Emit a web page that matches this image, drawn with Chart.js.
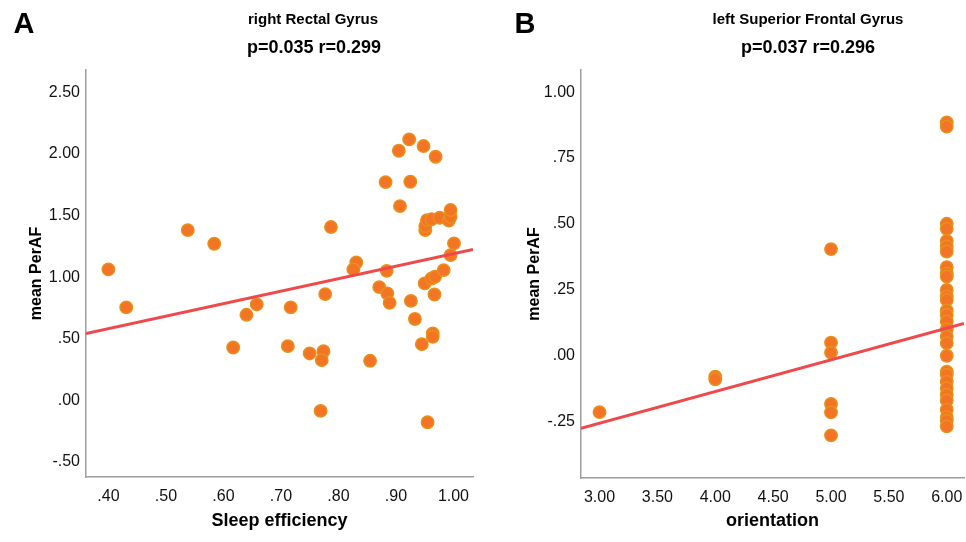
<!DOCTYPE html>
<html><head><meta charset="utf-8">
<script src="https://cdn.jsdelivr.net/npm/chart.js@4.4.0/dist/chart.umd.min.js"></script>
<style>
html,body{margin:0;padding:0;background:#fff;overflow:hidden;}
#wrap{position:relative;width:966px;height:542px;overflow:hidden;background:#fff;}
.pane{position:absolute;top:0;height:542px;}
</style></head><body>
<div id="wrap">
<div class="pane" style="left:0;width:483px"><canvas id="cA" width="483" height="542"></canvas></div>
<div class="pane" style="left:483px;width:493px"><canvas id="cB" width="493" height="542"></canvas></div>
</div>
<script>
// ---------- Panel A data ----------
const sleepEfficiency = [0.400,0.431,0.538,0.584,0.617,0.640,0.658,0.712,0.717,0.750,0.774,0.771,0.769,0.777,0.787,0.831,0.826,0.855,0.871,0.882,0.884,0.885,0.889,0.905,0.907,0.923,0.925,0.926,0.933,0.948,0.945,0.950,0.951,0.951,0.954,0.962,0.976,0.992,0.995,0.995,1.001,0.995,0.955,0.962,0.964,0.964,0.967,0.969,0.968,0.983];
const perafA =          [1.063,0.754,1.382,1.271,0.428,0.694,0.778,0.439,0.754,0.380,0.398,0.325,-0.087,0.862,1.407,1.119,1.063,0.320,0.919,1.772,1.051,0.867,0.791,2.027,1.577,2.119,1.775,0.807,0.660,2.065,0.455,0.949,1.382,1.415,1.463,1.470,1.482,1.460,1.490,1.545,1.274,1.179,-0.179,0.989,0.542,0.515,0.859,1.978,1.003,1.057];
const fitAX = [0.361, 1.034];
const fitAY = [0.542, 1.225];
const xTicksA = [0.4,0.5,0.6,0.7,0.8,0.9,1.0];
const xTickLabelsA = ['.40','.50','.60','.70','.80','.90','1.00'];
const yTicksA = [-0.5,0,0.5,1.0,1.5,2.0,2.5];
const yTickLabelsA = ['-.50','.00','.50','1.00','1.50','2.00','2.50'];

// ---------- Panel B data ----------
const orientation = [3,4,4,5,5,5,5,5,5,6,6,6,6,6,6,6,6,6,6,6,6,6,6,6,6,6,6,6,6,6,6,6,6,6,6,6,6,6,6];
const perafB =      [-0.215,-0.080,-0.090,0.404,0.049,0.011,-0.184,-0.216,-0.303,
                     0.885,0.869,0.500,0.481,0.435,0.414,0.395,0.335,0.312,0.300,0.249,0.224,0.211,0.171,0.154,0.129,0.100,0.072,0.047,-0.001,-0.061,-0.073,-0.099,-0.124,-0.149,-0.171,-0.206,-0.234,-0.247,-0.269];
const fitBX = [2.84, 6.149];
const fitBY = [-0.276, 0.122];
const xTicksB = [3,3.5,4,4.5,5,5.5,6];
const xTickLabelsB = ['3.00','3.50','4.00','4.50','5.00','5.50','6.00'];
const yTicksB = [-0.25,0,0.25,0.5,0.75,1.0];
const yTickLabelsB = ['-.25','.00','.25','.50','.75','1.00'];

const FONT = "'Liberation Sans', Arial, Helvetica, sans-serif";
const POINT_FILL = '#F37424';
const POINT_EDGE = '#E8901C';
const LINE_COLOR = '#EE4A4C';
const AXIS_COLOR = '#9E9E9E';

const textPlugin = {
  id: 'panelText',
  afterDraw(chart, args, opts) {
    const ctx = chart.ctx;
    ctx.save();
    ctx.fillStyle = '#000';
    ctx.textBaseline = 'middle';
    (opts.items || []).forEach(t => {
      ctx.font = t.font;
      ctx.textAlign = 'center';
      ctx.fillText(t.text, t.x, t.y);
    });
    ctx.restore();
  }
};

function toPoints(xs, ys) { return xs.map((x, i) => ({x: x, y: ys[i]})); }

function makeChart(id, cfg) {
  return new Chart(document.getElementById(id), {
    type: 'scatter',
    data: {
      datasets: [
        {
          type: 'line',
          data: toPoints(cfg.fitX, cfg.fitY),
          borderColor: LINE_COLOR,
          borderWidth: 3,
          pointRadius: 0,
          fill: false,
          showLine: true,
          order: 0
        },
        {
          data: toPoints(cfg.xs, cfg.ys),
          backgroundColor: POINT_FILL,
          borderColor: POINT_EDGE,
          borderWidth: 1.5,
          pointRadius: 6.2,
          order: 1
        }
      ]
    },
    options: {
      responsive: false,
      animation: false,
      events: [],
      layout: { padding: { top: 70, right: cfg.padRight, left: 0, bottom: 0 } },
      plugins: {
        legend: { display: false },
        tooltip: { enabled: false },
        title: { display: false },
        panelText: { items: cfg.texts }
      },
      scales: {
        x: {
          type: 'linear',
          min: cfg.xMin, max: cfg.xMax,
          grid: { display: false, drawTicks: false },
          border: { display: true, color: AXIS_COLOR, width: 1.5 },
          afterFit: s => { s.height = cfg.xHeight; s.paddingLeft = 0; s.paddingRight = 0; },
          afterBuildTicks: s => { s.ticks = cfg.xTicks.map(v => ({value: v})); },
          ticks: {
            autoSkip: false, maxRotation: 0, padding: 10,
            color: '#111', font: { family: FONT, size: 16 },
            callback: (v, i) => cfg.xLabels[i]
          },
          title: {
            display: true, text: cfg.xTitle, color: '#000',
            font: { family: FONT, size: 18, weight: 'bold' },
            padding: { top: 0, bottom: 10 }
          }
        },
        y: {
          type: 'linear',
          min: cfg.yMin, max: cfg.yMax,
          grid: { display: false, drawTicks: false },
          border: { display: true, color: AXIS_COLOR, width: 1.5 },
          afterFit: s => { s.width = cfg.yWidth; s.paddingTop = 0; s.paddingBottom = 0; },
          afterBuildTicks: s => { s.ticks = cfg.yTicks.map(v => ({value: v})); },
          ticks: {
            autoSkip: false, padding: 6,
            color: '#111', font: { family: FONT, size: 16 },
            callback: (v, i) => cfg.yLabels[i]
          },
          title: {
            display: true, text: 'mean PerAF', color: '#000',
            font: { family: FONT, size: 16, weight: 'bold' },
            padding: { top: cfg.yTitlePad, bottom: 0 }
          }
        }
      }
    },
    plugins: [textPlugin]
  });
}

makeChart('cA', {
  xs: sleepEfficiency, ys: perafA, fitX: fitAX, fitY: fitAY,
  xMin: 0.361, xMax: 1.034, yMin: -0.624, yMax: 2.683,
  xTicks: xTicksA, xLabels: xTickLabelsA, yTicks: yTicksA, yLabels: yTickLabelsA,
  xTitle: 'Sleep efficiency', padRight: 10, yWidth: 86, xHeight: 65, yTitlePad: 27,
  texts: [
    { text: 'A', x: 24, y: 25, font: "bold 29px " + FONT },
    { text: 'right Rectal Gyrus', x: 313, y: 20, font: "bold 15px " + FONT },
    { text: 'p=0.035 r=0.299', x: 314, y: 48, font: "bold 18px " + FONT }
  ]
});

makeChart('cB', {
  xs: orientation, ys: perafB, fitX: fitBX, fitY: fitBY,
  xMin: 2.84, xMax: 6.149, yMin: -0.465, yMax: 1.084,
  xTicks: xTicksB, xLabels: xTickLabelsB, yTicks: yTicksB, yLabels: yTickLabelsB,
  xTitle: 'orientation', padRight: 12, yWidth: 98, xHeight: 64, yTitlePad: 42,
  texts: [
    { text: 'B', x: 42, y: 25, font: "bold 29px " + FONT },
    { text: 'left Superior Frontal Gyrus', x: 325, y: 20, font: "bold 15px " + FONT },
    { text: 'p=0.037 r=0.296', x: 325, y: 48, font: "bold 18px " + FONT }
  ]
});
</script>
</body></html>
